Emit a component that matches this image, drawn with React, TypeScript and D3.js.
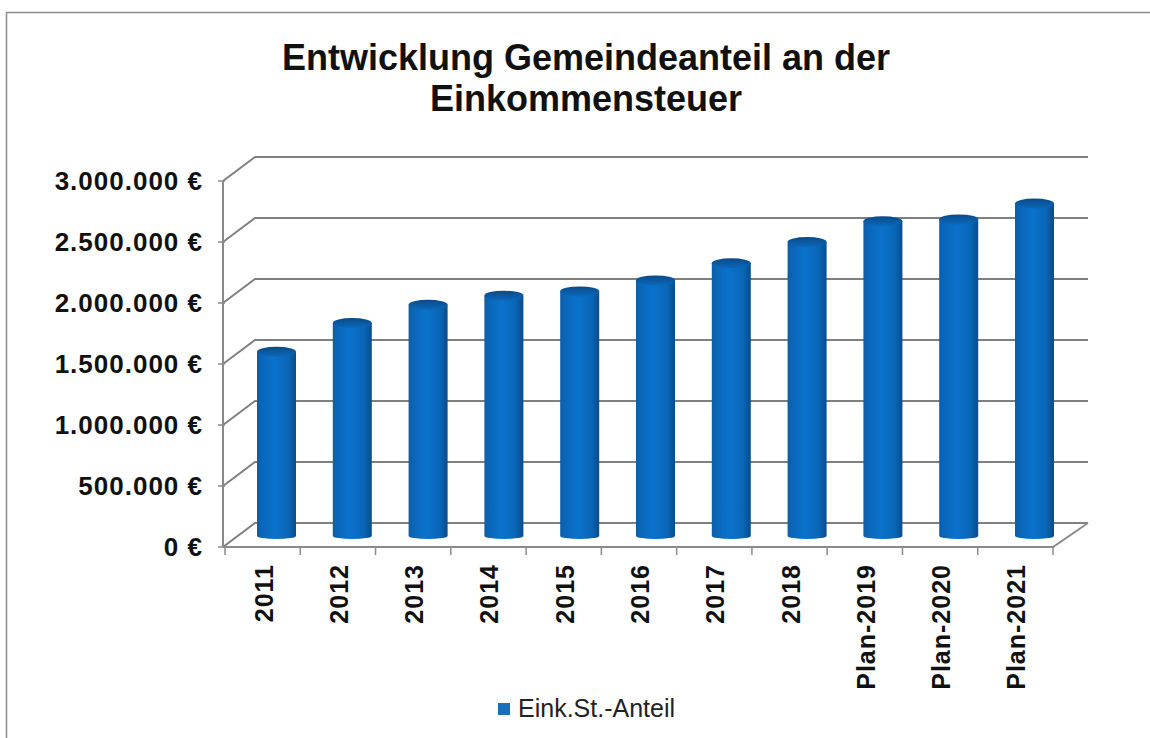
import React from "react";
import * as d3 from "d3";

const categories = ["2011","2012","2013","2014","2015","2016","2017","2018","Plan-2019","Plan-2020","Plan-2021"];
const values = [1510000,1745000,1895000,1970000,2005000,2095000,2235000,2410000,2580000,2595000,2725000];
const ticks = [0,500000,1000000,1500000,2000000,2500000,3000000];
const tickLabels = ["0 €","500.000 €","1.000.000 €","1.500.000 €","2.000.000 €","2.500.000 €","3.000.000 €"];
const titleLines = ["Entwicklung Gemeindeanteil an der","Einkommensteuer"];
const seriesName = "Eink.St.-Anteil";

const W = 1150, H = 738;
const FONT = "'Liberation Sans', Arial, sans-serif";
const depthX = 30, depthY = -24;
const x = d3.scaleBand<string>().domain(categories).range([225, 1053]);
const xBar = d3.scaleBand<string>().domain(categories).range([238.6, 1072.4]);
const y = d3.scaleLinear().domain([0, 3000000]).range([547, 181]);
const barW = 39, ryTop = 5, ryBottom = 3, barDy = -11;

export default function App() {
  const [x0, x1] = x.range();
  return (
    <svg width={W} height={H} viewBox={`0 0 ${W} ${H}`} style={{position:"absolute",left:0,top:0,background:"#fff"}} fontFamily={FONT}>
      <defs>
        <linearGradient id="cyl" x1="0" x2="1" y1="0" y2="0">
          <stop offset="0" stopColor="#0e5da6"/>
          <stop offset="0.12" stopColor="#0b66b8"/>
          <stop offset="0.45" stopColor="#0a72cc"/>
          <stop offset="0.8" stopColor="#0a66b6"/>
          <stop offset="1" stopColor="#0a4c8c"/>
        </linearGradient>
        <linearGradient id="cap" x1="0" x2="0" y1="0" y2="1">
          <stop offset="0" stopColor="#0a4a88"/>
          <stop offset="1" stopColor="#0b68ba"/>
        </linearGradient>
      </defs>
      <path d="M6.5 738V12.5H1150" fill="none" stroke="#8c8c8c" strokeWidth={1.5}/>

      {ticks.map(t => (
        <g key={t}>
          <path d={`M${x0-2} ${y(t)}L${x0+depthX} ${y(t)+depthY}H${x1+depthX+5}`} fill="none" stroke="#7f7f7f" strokeWidth={2}/>
          <line x1={x0-7} x2={x0} y1={y(t)} y2={y(t)} stroke="#8a8a8a" strokeWidth={1.5}/>
        </g>
      ))}
      <line x1={x0-2} x2={x0-2} y1={y(3000000)} y2={y(0)} stroke="#8a8a8a" strokeWidth={2}/>
      <path d={`M${x0-2} ${y(0)}H${x1}L${x1+depthX+5} ${y(0)+depthY}`} fill="none" stroke="#8a8a8a" strokeWidth={2}/>
      {categories.map(c => (
        <line key={c} x1={x(c)!} x2={x(c)!} y1={y(0)} y2={y(0)+8} stroke="#8a8a8a" strokeWidth={1.5}/>
      ))}
      <line x1={x1} x2={x1} y1={y(0)} y2={y(0)+8} stroke="#8a8a8a" strokeWidth={1.5}/>

      {categories.map((c,i) => {
        const cx = xBar(c)! + xBar.bandwidth()/2;
        const yb = y(0) + barDy, yt = y(values[i]) + barDy;
        const l = cx - barW/2, r = cx + barW/2;
        return (
          <g key={c}>
            <path d={`M${l} ${yt}V${yb}A${barW/2} ${ryBottom} 0 0 0 ${r} ${yb}V${yt}Z`} fill="url(#cyl)"/>
            <ellipse cx={cx} cy={yt} rx={barW/2} ry={ryTop} fill="url(#cap)"/>
          </g>
        );
      })}

      {ticks.map((t,i) => (
        <text key={t} x={203} y={y(t)+9} textAnchor="end" fontSize={26} fontWeight={700} letterSpacing={1} fill="#111">{tickLabels[i]}</text>
      ))}
      {categories.map(c => {
        const cx = x(c)! + x.bandwidth()/2;
        return <text key={c} transform={`translate(${cx+10},564) rotate(-90)`} textAnchor="end" fontSize={25} fontWeight={700} letterSpacing={1} fill="#111">{c}</text>;
      })}

      {titleLines.map((l,i) => (
        <text key={l} x={586} y={70+i*41} textAnchor="middle" fontSize={36} fontWeight={700} fill="#111">{l}</text>
      ))}

      <rect x={498} y={703} width={12} height={12} fill="#1a6fb8"/>
      <text x={518} y={717} fontSize={25} fill="#222">{seriesName}</text>
    </svg>
  );
}
